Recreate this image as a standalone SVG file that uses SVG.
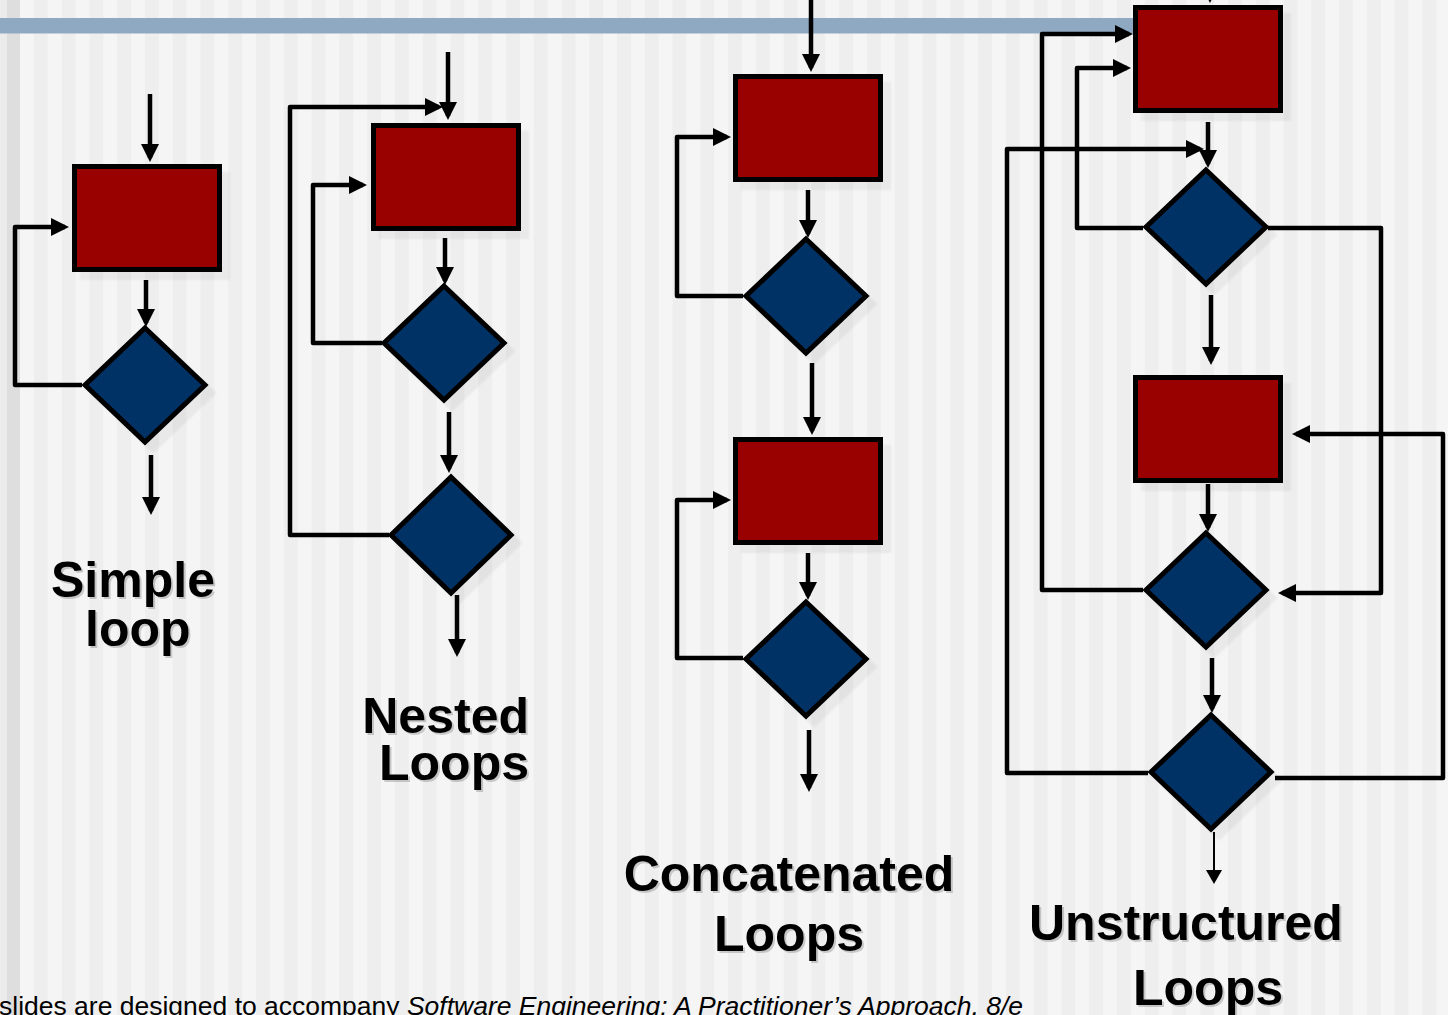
<svg xmlns="http://www.w3.org/2000/svg" width="1448" height="1015" viewBox="0 0 1448 1015">
<defs>
<pattern id="stripes" patternUnits="userSpaceOnUse" x="20" y="0" width="27.77" height="1015">
<rect x="0" y="0" width="13.6" height="1015" fill="#f5f5f5"/>
<rect x="13.6" y="0" width="14.17" height="1015" fill="#eeeeee"/>
</pattern>
<marker id="ah" viewBox="0 0 18 18" markerWidth="18" markerHeight="18" markerUnits="userSpaceOnUse" refX="14" refY="9" orient="auto">
<path d="M0,0 L18,9 L0,18 z" fill="#000"/>
</marker>
<marker id="ahThin" viewBox="0 0 14 16" markerWidth="14" markerHeight="16" markerUnits="userSpaceOnUse" refX="12" refY="8" orient="auto">
<path d="M0,0 L14,8 L0,16 z" fill="#000"/>
</marker>
<filter id="shadow" x="-10%" y="-10%" width="130%" height="130%">
<feDropShadow dx="8" dy="8" stdDeviation="0.8" flood-color="#000" flood-opacity="0.05"/>
</filter>
<filter id="tshadow" x="-5%" y="-10%" width="110%" height="130%">
<feDropShadow dx="2" dy="2" stdDeviation="0.6" flood-color="#000" flood-opacity="0.18"/>
</filter>
</defs>
<style>
.box{fill:#990000;stroke:#000;stroke-width:5}
.dec{fill:#003366;stroke:#000;stroke-width:5;stroke-linejoin:miter}
.c{fill:none;stroke:#000;stroke-width:4.5;stroke-linejoin:round;marker-end:url(#ah)}
.thin{fill:none;stroke:#000;stroke-width:2;marker-end:url(#ahThin)}
.lbl{font-family:"Liberation Sans",Arial,sans-serif;font-weight:bold;font-size:50px;fill:#000;filter:url(#tshadow)}
.foot{font-family:"Liberation Sans",Arial,sans-serif;font-size:26px;fill:#000}
</style>
<rect x="0" y="0" width="1448" height="1015" fill="url(#stripes)"/>
<rect x="0" y="0" width="7" height="1015" fill="#ebebeb"/>
<rect x="7" y="0" width="13" height="1015" fill="#dedede"/>
<rect x="0" y="18" width="1140" height="15.5" fill="#8fa9c3"/>

<g id="connectors">
<!-- simple loop -->
<path class="c" d="M150,94 V158"/>
<path class="c" d="M146,280 V323"/>
<path class="c" d="M82,385 H15 V227 H65"/>
<path class="c" d="M151,455 V511"/>
<!-- nested loops -->
<path class="c" d="M448,52 V116"/>
<path class="c" d="M389,535 H290 V107 H439"/>
<path class="c" d="M382,343 H313 V185 H363"/>
<path class="c" d="M445,238 V281"/>
<path class="c" d="M449,412 V469"/>
<path class="c" d="M457,595 V653"/>
<!-- concatenated loops -->
<path class="c" d="M811,0 V68"/>
<path class="c" d="M743,296 H677 V137 H727"/>
<path class="c" d="M808,190 V234"/>
<path class="c" d="M812,363 V431"/>
<path class="c" d="M743,658 H677 V500 H727"/>
<path class="c" d="M808,553 V596"/>
<path class="c" d="M809,730 V788"/>
<!-- unstructured loops -->
<path class="c" d="M1210,-30 V-1"/>
<path class="c" d="M1143,590 H1042 V34 H1129"/>
<path class="c" d="M1143,228 H1077 V68 H1127"/>
<path class="c" d="M1148,773 H1007 V149 H1200"/>
<path class="c" d="M1208,122 V164"/>
<path class="c" d="M1268,228 H1381 V593 H1282"/>
<path class="c" d="M1211,295 V361"/>
<path class="c" d="M1275,778 H1443 V434 H1296"/>
<path class="c" d="M1208,484 V528"/>
<path class="c" d="M1212,658 V709"/>
<path class="thin" d="M1214,832 V882"/>
</g>

<g id="simple-box" filter="url(#shadow)"><rect class="box" x="74.5" y="166.5" width="145" height="103"/></g>
<g id="simple-decision" filter="url(#shadow)"><path class="dec" d="M145,328 L205,385 L145,442 L85,385 Z"/></g>

<g id="nested-box" filter="url(#shadow)"><rect class="box" x="373.5" y="125.5" width="145" height="103"/></g>
<g id="nested-decision-inner" filter="url(#shadow)"><path class="dec" d="M444,286 L504,343 L444,400 L384,343 Z"/></g>
<g id="nested-decision-outer" filter="url(#shadow)"><path class="dec" d="M451,477 L511,535 L451,593 L391,535 Z"/></g>

<g id="concat-box-1" filter="url(#shadow)"><rect class="box" x="735.5" y="76.5" width="145" height="103"/></g>
<g id="concat-decision-1" filter="url(#shadow)"><path class="dec" d="M806,239 L866,296 L806,353 L746,296 Z"/></g>
<g id="concat-box-2" filter="url(#shadow)"><rect class="box" x="735.5" y="439.5" width="145" height="103"/></g>
<g id="concat-decision-2" filter="url(#shadow)"><path class="dec" d="M806,602 L866,659 L806,716 L746,659 Z"/></g>

<g id="unstr-box-1" filter="url(#shadow)"><rect class="box" x="1135.5" y="7.5" width="145" height="103"/></g>
<g id="unstr-decision-1" filter="url(#shadow)"><path class="dec" d="M1206,170 L1266,227 L1206,284 L1146,227 Z"/></g>
<g id="unstr-box-2" filter="url(#shadow)"><rect class="box" x="1135.5" y="377.5" width="145" height="103"/></g>
<g id="unstr-decision-2" filter="url(#shadow)"><path class="dec" d="M1206,533 L1266,590 L1206,647 L1146,590 Z"/></g>
<g id="unstr-decision-3" filter="url(#shadow)"><path class="dec" d="M1211,715 L1271,772 L1211,829 L1151,772 Z"/></g>

<g id="labels">
<text class="lbl" x="51" y="597">Simple</text>
<text class="lbl" x="85" y="646">loop</text>
<text class="lbl" x="529" y="733" text-anchor="end">Nested</text>
<text class="lbl" x="529" y="780" text-anchor="end">Loops</text>
<text class="lbl" x="789" y="891" text-anchor="middle">Concatenated</text>
<text class="lbl" x="789" y="951" text-anchor="middle">Loops</text>
<text class="lbl" x="1029" y="940">Unstructured</text>
<text class="lbl" x="1133" y="1005">Loops</text>
</g>
<text class="foot" x="-1" y="1015" textLength="1024" lengthAdjust="spacingAndGlyphs">slides are designed to accompany <tspan font-style="italic">Software Engineering: A Practitioner’s Approach, 8/e</tspan></text>
</svg>
